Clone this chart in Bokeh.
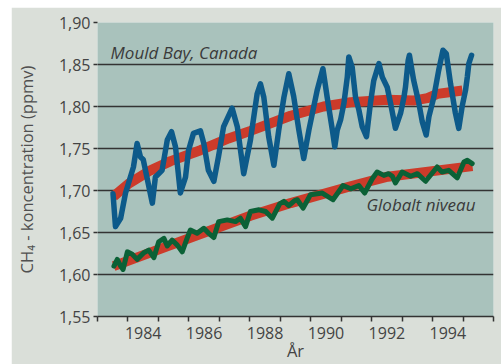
from bokeh.embed import file_html
from bokeh.layouts import column, row
from bokeh.models import CustomJSTickFormatter, FixedTicker, Label, Spacer
from bokeh.plotting import figure
from bokeh.resources import INLINE

# Mould Bay, Canada: monthly CH4 (ppmv)
mould_years = [1983.51, 1983.59, 1983.76, 1983.92, 1984.18, 1984.30, 1984.41, 1984.50,
               1984.80, 1984.90, 1985.12, 1985.29, 1985.43, 1985.56, 1985.72, 1985.89,
               1985.99, 1986.15, 1986.38, 1986.49, 1986.64, 1986.82, 1986.97, 1987.14,
               1987.42, 1987.59, 1987.80, 1988.02, 1988.24, 1988.35, 1988.46, 1988.62,
               1988.79, 1988.95, 1989.12, 1989.28, 1989.44, 1989.61, 1989.77, 1989.94,
               1990.21, 1990.40, 1990.54, 1990.71, 1990.79, 1990.87, 1990.98, 1991.09,
               1991.20, 1991.25, 1991.36, 1991.47, 1991.58, 1991.69, 1991.83, 1991.96,
               1992.07, 1992.24, 1992.35, 1992.51, 1992.62, 1992.78, 1992.95, 1993.06,
               1993.11, 1993.20, 1993.24, 1993.38, 1993.55, 1993.66, 1993.79, 1993.88,
               1994.04, 1994.20, 1994.34, 1994.45, 1994.59, 1994.75, 1994.86, 1994.97,
               1995.08, 1995.14, 1995.19, 1995.28]
mould_ch4 = [1.696, 1.657, 1.667, 1.697, 1.728, 1.756, 1.740, 1.737,
             1.685, 1.716, 1.724, 1.760, 1.770, 1.752, 1.697, 1.716,
             1.748, 1.768, 1.771, 1.756, 1.724, 1.711, 1.740, 1.776,
             1.798, 1.776, 1.720, 1.760, 1.815, 1.827, 1.811, 1.764,
             1.730, 1.772, 1.811, 1.839, 1.812, 1.772, 1.738, 1.772,
             1.819, 1.845, 1.811, 1.772, 1.752, 1.772, 1.784, 1.804,
             1.835, 1.859, 1.847, 1.811, 1.796, 1.776, 1.764, 1.804,
             1.831, 1.851, 1.835, 1.823, 1.804, 1.774, 1.792, 1.811,
             1.823, 1.855, 1.861, 1.831, 1.804, 1.782, 1.766, 1.788,
             1.811, 1.843, 1.867, 1.863, 1.827, 1.792, 1.774, 1.800,
             1.819, 1.835, 1.851, 1.861]

# Mould Bay smoothed trend
mould_trend_years = [1983.53, 1984.02, 1984.74, 1985.40, 1986.38, 1987.30, 1988.02, 1989.34,
                     1990.42, 1991.31, 1992.52, 1993.37, 1993.83, 1994.16, 1994.98]
mould_trend = [1.693, 1.708, 1.724, 1.735, 1.748, 1.762, 1.771, 1.789,
               1.800, 1.805, 1.808, 1.807, 1.810, 1.815, 1.819]

# Global mean level
global_years = [1983.54, 1983.65, 1983.76, 1983.84, 1983.98, 1984.14, 1984.30, 1984.52,
                1984.68, 1984.85, 1985.01, 1985.18, 1985.29, 1985.45, 1985.62, 1985.78,
                1985.94, 1986.05, 1986.27, 1986.49, 1986.65, 1986.82, 1986.98, 1987.26,
                1987.53, 1987.69, 1987.86, 1988.02, 1988.30, 1988.52, 1988.74, 1988.98,
                1989.12, 1989.28, 1989.47, 1989.56, 1989.75, 1989.99, 1990.38, 1990.73,
                1991.06, 1991.31, 1991.58, 1991.77, 1992.02, 1992.18, 1992.40, 1992.56,
                1992.68, 1992.78, 1993.00, 1993.28, 1993.50, 1993.77, 1994.15, 1994.31,
                1994.53, 1994.81, 1995.03, 1995.14, 1995.30]
global_ch4 = [1.610, 1.618, 1.610, 1.606, 1.627, 1.624, 1.618, 1.626,
              1.629, 1.620, 1.639, 1.643, 1.634, 1.641, 1.635, 1.627,
              1.643, 1.653, 1.649, 1.655, 1.649, 1.644, 1.663, 1.665,
              1.663, 1.667, 1.657, 1.675, 1.677, 1.675, 1.667, 1.684,
              1.687, 1.682, 1.688, 1.689, 1.679, 1.695, 1.697, 1.689,
              1.706, 1.702, 1.706, 1.697, 1.714, 1.722, 1.718, 1.720,
              1.717, 1.709, 1.722, 1.717, 1.720, 1.711, 1.728, 1.722,
              1.724, 1.715, 1.734, 1.736, 1.732]

# Global smoothed trend
global_trend_years = [1983.53, 1986.22, 1988.02, 1989.34, 1991.31, 1992.46, 1995.31]
global_trend = [1.610, 1.646, 1.670, 1.685, 1.705, 1.716, 1.729]

y_ticks = [1.55, 1.60, 1.65, 1.70, 1.75, 1.80, 1.85, 1.90]
year_bounds = list(range(1983, 1997))
year_labels = [1984, 1986, 1988, 1990, 1992, 1994]

FONT = "Open Sans"
TEXT = "#444444"
GRID = "#333333"

p = figure(width=490, height=357, x_range=(1983, 1996), y_range=(1.55, 1.90),
           output_backend="svg", toolbar_location=None,
           min_border_left=86, min_border_right=8, min_border_top=15, min_border_bottom=47)
p.background_fill_color = "#a9c2bc"
p.border_fill_color = "#dadfd9"
p.outline_line_color = None

# y axis: comma decimals, short outward ticks, no spine
p.yaxis.ticker = FixedTicker(ticks=y_ticks)
p.yaxis.formatter = CustomJSTickFormatter(code="return tick.toFixed(2).replace('.', ',');")
p.yaxis.axis_line_color = None
p.yaxis.major_tick_out = 4
p.yaxis.major_tick_in = 0
p.yaxis.minor_tick_out = 0
p.yaxis.minor_tick_in = 0
p.yaxis.major_tick_line_color = GRID
p.yaxis.major_tick_line_width = 1.5
p.yaxis.major_label_standoff = 3
p.yaxis.major_label_text_font = FONT
p.yaxis.major_label_text_font_size = "16px"
p.yaxis.major_label_text_color = TEXT
p.yaxis.axis_label = "CH₄ - koncentration (ppmv)"
p.yaxis.axis_label_standoff = 18
p.yaxis.axis_label_text_font = FONT
p.yaxis.axis_label_text_font_style = "normal"
p.yaxis.axis_label_text_font_size = "16.5px"
p.yaxis.axis_label_text_color = "#505050"

# x axis: ticks on year boundaries, labels centred in the year
p.xaxis.ticker = FixedTicker(ticks=[y + 0.5 for y in year_labels], minor_ticks=year_bounds)
p.xaxis.formatter = CustomJSTickFormatter(code="return Math.floor(tick).toString();")
p.xaxis.major_tick_out = 0
p.xaxis.major_tick_in = 0
p.xaxis.minor_tick_out = 5
p.xaxis.minor_tick_in = 0
p.xaxis.minor_tick_line_color = GRID
p.xaxis.minor_tick_line_width = 1.5
p.xaxis.axis_line_color = GRID
p.xaxis.axis_line_width = 1.5
p.xaxis.major_label_standoff = 5
p.xaxis.major_label_text_font = FONT
p.xaxis.major_label_text_font_size = "16px"
p.xaxis.major_label_text_color = TEXT
p.xaxis.axis_label = "År"
p.xaxis.axis_label_standoff = -3
p.xaxis.axis_label_text_font = FONT
p.xaxis.axis_label_text_font_style = "normal"
p.xaxis.axis_label_text_font_size = "16.5px"
p.xaxis.axis_label_text_color = TEXT

p.xgrid.visible = False
p.ygrid.ticker = FixedTicker(ticks=y_ticks)
p.ygrid.grid_line_color = GRID
p.ygrid.grid_line_width = 1.5

RED = "#cc3b2a"
p.line(mould_trend_years, mould_trend, line_color=RED, line_width=10, line_join="round")
p.line(global_trend_years, global_trend, line_color=RED, line_width=10, line_join="round")
p.line(mould_years, mould_ch4, line_color="#0d5a8a", line_width=5.5,
       line_join="round", line_cap="round")
p.line(global_years, global_ch4, line_color="#0b6136", line_width=5,
       line_join="round", line_cap="round")

p.add_layout(Label(x=1983.43, y=1.864, text="Mould Bay, Canada", text_baseline="middle",
                   text_font=FONT, text_font_style="italic",
                   text_font_size="17px", text_color="#3a3a3a"))
p.add_layout(Label(x=1991.83, y=1.683, text="Globalt niveau", text_baseline="middle",
                   text_font=FONT, text_font_style="italic",
                   text_font_size="17px", text_color="#3a3a3a"))

page = column(Spacer(width=501, height=7),
              row(Spacer(width=11, height=357), p, spacing=0),
              spacing=0)

open("out.html", "w").write(file_html(page, INLINE))
